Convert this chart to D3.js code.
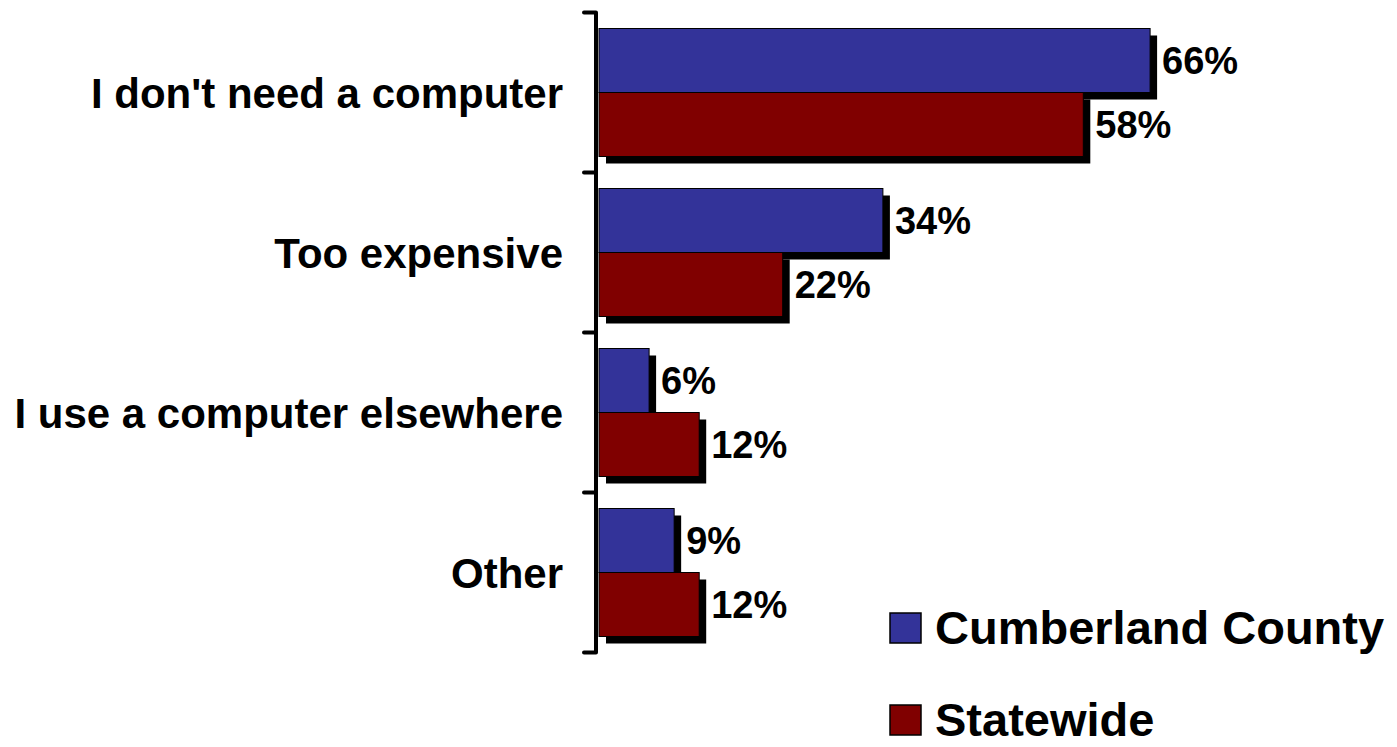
<!DOCTYPE html>
<html>
<head>
<meta charset="utf-8">
<script src="https://cdn.jsdelivr.net/npm/d3@7"></script>
<style>
    body { margin: 0; background: #FFFFFF; }
    svg text { font-family: "Liberation Sans", Arial, sans-serif; font-weight: bold; fill: #000000; }
</style>
</head>
<body>
<div id="chart"></div>
<script>
const categories = ["I don't need a computer", "Too expensive", "I use a computer elsewhere", "Other"];
const seriesNames = ["Cumberland County", "Statewide"];
const cumberland = [66, 34, 6, 9];
const statewide = [58, 22, 12, 12];
const seriesColors = ["#333399", "#800000"];

const width = 1397,
    height = 747,
    shadow = 7;

const svg = d3.select("#chart").append("svg")
    .attr("width", width)
    .attr("height", height);

const x = d3.scaleLinear()
    .domain([0, 100])
    .range([599, 1434]);

const y = d3.scaleBand()
    .domain(categories)
    .range([12.5, 652.5]);

const ySeries = d3.scaleBand()
    .domain(seriesNames)
    .range([16, 144]);

// Build one row per bar from the named arrays
const bars = [];
categories.forEach(function(cat, i) {
    bars.push({cat: cat, series: seriesNames[0], value: cumberland[i], color: seriesColors[0]});
    bars.push({cat: cat, series: seriesNames[1], value: statewide[i], color: seriesColors[1]});
});

const barGroups = svg.append("g")
    .selectAll("g")
    .data(bars)
    .join("g");

// Drop shadow first, then the bar itself
barGroups.append("rect")
    .attr("x", x(0) + shadow)
    .attr("y", d => y(d.cat) + ySeries(d.series) + shadow)
    .attr("width", d => x(d.value) - x(0))
    .attr("height", ySeries.bandwidth())
    .attr("fill", "#000000");

barGroups.append("rect")
    .attr("x", x(0))
    .attr("y", d => y(d.cat) + ySeries(d.series))
    .attr("width", d => x(d.value) - x(0))
    .attr("height", ySeries.bandwidth())
    .attr("fill", d => d.color)
    .attr("stroke", "#000000")
    .attr("stroke-width", 1);

barGroups.append("text")
    .attr("x", d => x(d.value) + shadow + 5)
    .attr("y", d => y(d.cat) + ySeries(d.series) + ySeries.bandwidth() / 2)
    .attr("dy", "0.36em")
    .attr("font-size", 38)
    .text(d => d.value + "%");

// Category axis with ticks on the band edges
const axis = svg.append("g");
axis.append("line")
    .attr("x1", 596)
    .attr("x2", 596)
    .attr("y1", y.range()[0])
    .attr("y2", y.range()[1])
    .attr("stroke", "#000000")
    .attr("stroke-width", 4);

const tickPos = categories.map(c => y(c)).concat([y.range()[1]]);
axis.selectAll(".tick")
    .data(tickPos)
    .join("line")
    .classed("tick", true)
    .attr("x1", 584)
    .attr("x2", 596)
    .attr("y1", d => d)
    .attr("y2", d => d)
    .attr("stroke", "#000000")
    .attr("stroke-width", 4)
    .attr("stroke-linecap", "round");

axis.selectAll(".cat-label")
    .data(categories)
    .join("text")
    .classed("cat-label", true)
    .attr("x", 563)
    .attr("y", d => y(d) + y.bandwidth() / 2)
    .attr("dy", "0.36em")
    .attr("text-anchor", "end")
    .attr("font-size", 42)
    .text(d => d);

// Legend
const legend = svg.append("g")
    .selectAll("g")
    .data(seriesNames)
    .join("g")
    .attr("transform", (d, i) => "translate(890," + (613 + i * 92) + ")");

legend.append("rect")
    .attr("width", 31)
    .attr("height", 30)
    .attr("fill", (d, i) => seriesColors[i])
    .attr("stroke", "#000000")
    .attr("stroke-width", 1.5);

legend.append("text")
    .attr("x", 45)
    .attr("y", 31)
    .attr("font-size", 47)
    .text(d => d);
</script>
</body>
</html>
